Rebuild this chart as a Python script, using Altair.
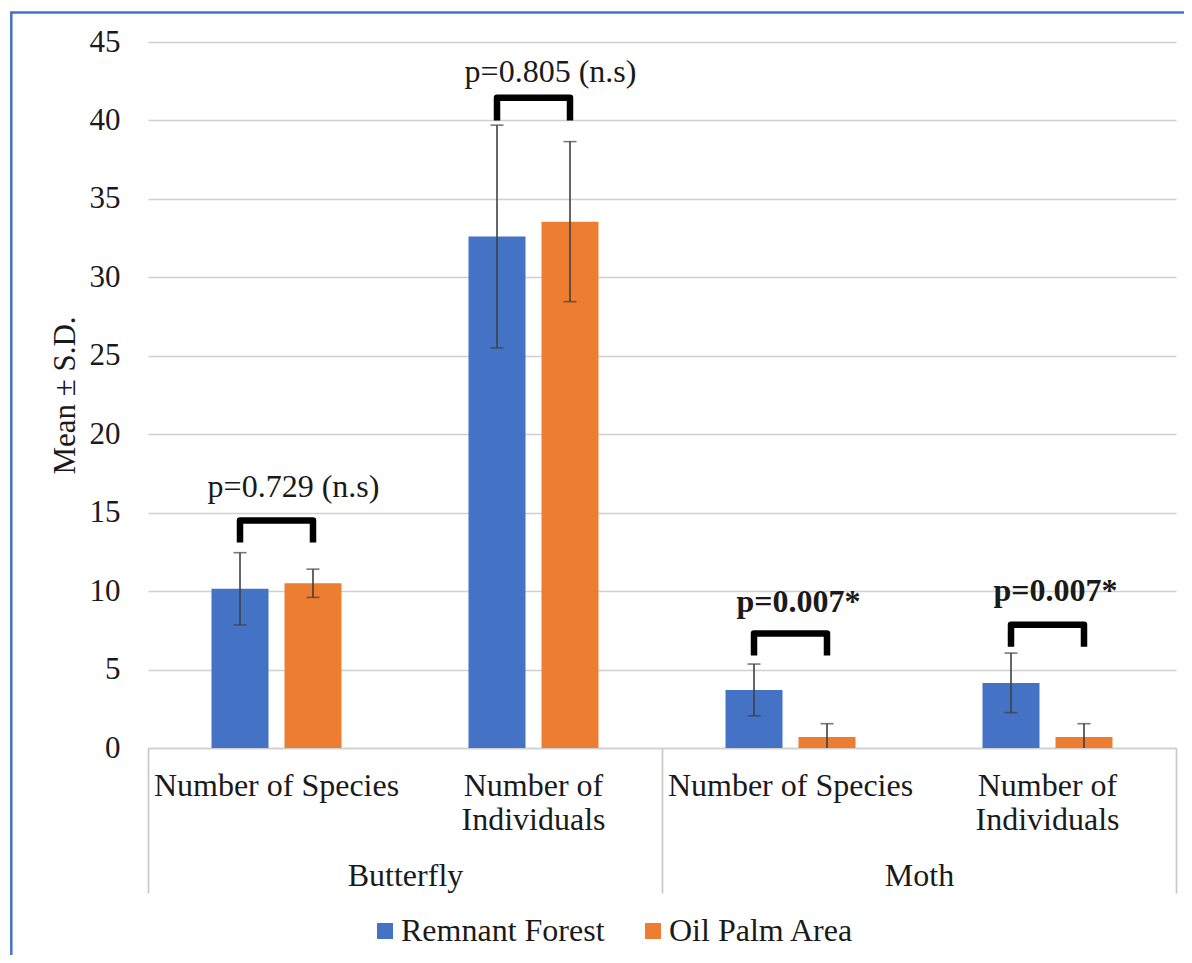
import altair as alt
import pandas as pd

# ---- data ----
GROUPS = ["Butterfly", "Butterfly", "Moth", "Moth"]
MEASURES = ["Number of Species", "Number of\nIndividuals", "Number of Species", "Number of\nIndividuals"]
SERIES = ["Remnant Forest", "Oil Palm Area"]
REMNANT_MEAN = [10.15, 32.6, 3.7, 4.15]
REMNANT_SD = [2.3, 7.1, 1.65, 1.9]
OILPALM_MEAN = [10.5, 33.55, 0.7, 0.7]
OILPALM_SD = [0.9, 5.1, 0.85, 0.85]
P_LABELS = ["p=0.729 (n.s)", "p=0.805 (n.s)", "p=0.007*", "p=0.007*"]
P_SIGNIFICANT = [False, False, True, True]
P_LABEL_Y = [16.0, 42.45, 8.7, 9.35]
BRACKET_TOP = [14.5, 41.45, 7.3, 7.85]
BRACKET_LEG = [13.1, 40.0, 5.9, 6.45]
Y_TICKS = list(range(0, 50, 5))
COLORS = ["#4472C4", "#ED7D31"]
GROUP_NAMES = ["Butterfly", "Moth"]

FONT = "Liberation Serif"
TXT = "#1a1a1a"
GRID = "#D0D0D0"

CATS = [f"{g}|{m}" for g, m in zip(GROUPS, MEASURES)]

rows = []
for i, c in enumerate(CATS):
    for s, means, sds in ((SERIES[0], REMNANT_MEAN, REMNANT_SD), (SERIES[1], OILPALM_MEAN, OILPALM_SD)):
        m, sd = means[i], sds[i]
        rows.append({"cat": c, "series": s, "mean": m, "lo": m - sd, "hi": m + sd})
bars_df = pd.DataFrame(rows)

br_rows = []
for i, c in enumerate(CATS):
    br_rows += [
        {"cat": c, "series": SERIES[0], "y": BRACKET_LEG[i], "o": 0},
        {"cat": c, "series": SERIES[0], "y": BRACKET_TOP[i], "o": 1},
        {"cat": c, "series": SERIES[1], "y": BRACKET_TOP[i], "o": 2},
        {"cat": c, "series": SERIES[1], "y": BRACKET_LEG[i], "o": 3},
    ]
br_df = pd.DataFrame(br_rows)

txt_df = pd.DataFrame({"cat": CATS, "label": P_LABELS, "y": P_LABEL_Y, "sig": P_SIGNIFICANT})
grp_df = pd.DataFrame({"group": GROUP_NAMES})

# ---- shared encodings ----
x_axis = alt.Axis(
    orient="bottom", title=None, labelAngle=0, ticks=False, grid=False,
    labelExpr="split(split(datum.value, '|')[1], '\\n')",
    labelFont=FONT, labelFontSize=32, labelColor=TXT, labelPadding=22,
    labelBaseline="top", labelLineHeight=34, labelLimit=400, labelOverlap=False,
    domainColor=GRID, domainWidth=1.7,
)
x_scale = alt.Scale(domain=CATS, paddingInner=0, paddingOuter=0)
X = alt.X("cat:N", scale=x_scale, axis=x_axis)
XO = alt.XOffset("series:N", scale=alt.Scale(domain=SERIES, paddingInner=0.219, paddingOuter=0.87))

y_scale = alt.Scale(domain=[0, 45], nice=False, zero=True)
y_axis = alt.Axis(
    values=Y_TICKS, title="Mean ± S.D.", ticks=False, domain=False,
    grid=True, gridColor=GRID, gridWidth=1.7,
    labelFont=FONT, labelFontSize=31, labelColor=TXT, labelPadding=28,
    titleFont=FONT, titleFontSize=31, titleFontWeight="normal", titleColor=TXT, titlePadding=8,
)


def Y(field):
    return alt.Y(field, scale=y_scale, axis=y_axis)


bars = alt.Chart(bars_df).mark_bar().encode(
    x=X, xOffset=XO, y=Y("mean:Q"),
    color=alt.Color(
        "series:N", scale=alt.Scale(domain=SERIES, range=COLORS),
        legend=alt.Legend(
            orient="none", legendX=221, legendY=873, direction="horizontal", title=None,
            symbolType="square", symbolSize=256, symbolStrokeWidth=0,
            labelFont=FONT, labelFontSize=32, labelColor=TXT, labelLimit=400,
            labelOffset=0, columnPadding=32, padding=0,
        ),
    ),
)

err = alt.Chart(bars_df).mark_rule(color="#404040", strokeWidth=1.6, clip=True).encode(
    x=X, xOffset=XO, y=Y("lo:Q"), y2="hi:Q"
)
cap_hi = alt.Chart(bars_df).mark_tick(color="#404040", thickness=1.6, size=13, clip=True).encode(
    x=X, xOffset=XO, y=Y("hi:Q")
)
cap_lo = alt.Chart(bars_df).mark_tick(color="#404040", thickness=1.6, size=13, clip=True).encode(
    x=X, xOffset=XO, y=Y("lo:Q")
)

brackets = alt.Chart(br_df).mark_line(
    color="black", strokeWidth=6.5, strokeJoin="round", strokeCap="butt"
).encode(x=X, xOffset=XO, y=Y("y:Q"), detail="cat:N", order="o:Q")

txt_ns = alt.Chart(txt_df).transform_filter("!datum.sig").mark_text(
    font=FONT, fontSize=32, baseline="alphabetic", align="center", dx=17, color=TXT
).encode(x=X, y=Y("y:Q"), text="label:N")
txt_sig = alt.Chart(txt_df).transform_filter("datum.sig").mark_text(
    font=FONT, fontSize=32, fontWeight="bold", baseline="alphabetic", align="center", dx=8, color=TXT
).encode(x=X, y=Y("y:Q"), text="label:N")

frame = alt.Chart(pd.DataFrame({"k": [0]})).mark_rect(
    filled=False, stroke="#4472C4", strokeWidth=2.5
).encode(x=alt.value(-136.7), x2=alt.value(1070), y=alt.value(-29.5), y2=alt.value(1000))

inner = alt.layer(bars, err, cap_hi, cap_lo, brackets, txt_ns, txt_sig, frame)

groups = alt.Chart(grp_df).mark_point(opacity=0).encode(
    x=alt.X(
        "group:N",
        scale=alt.Scale(domain=GROUP_NAMES, paddingInner=0, paddingOuter=0),
        axis=alt.Axis(
            orient="bottom", title=None, labelAngle=0, grid=False, domain=False,
            tickBand="extent", tickSize=145, tickColor="#C8C8C8", tickWidth=1.7,
            labelFont=FONT, labelFontSize=32, labelColor=TXT, labelPadding=-33,
            labelBaseline="top", labelLimit=400,
        ),
    )
)

chart = (
    alt.layer(inner, groups)
    .resolve_scale(x="independent")
    .properties(
        width=1028, height=706,
        padding={"left": 140, "top": 34, "right": 8, "bottom": 207},
        autosize=alt.AutoSizeParams(type="none"),
    )
    .configure_view(stroke=None)
)

chart.save("out.html", embed_options={"renderer": "svg", "actions": False})
